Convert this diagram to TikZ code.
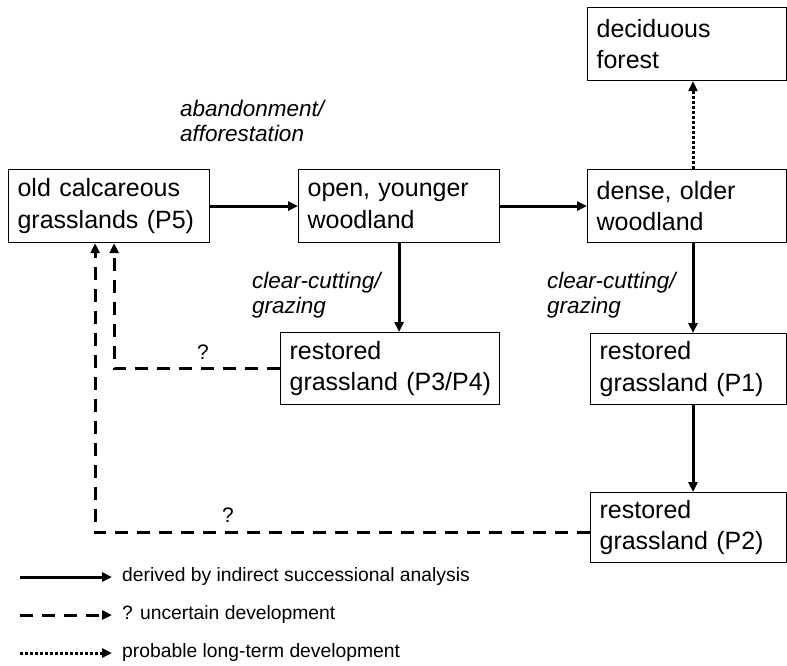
\documentclass[tikz,border=0pt]{standalone}
\usepackage{fontspec}
\setmainfont{Liberation Sans}
\usetikzlibrary{arrows.meta}
\tikzset{
  stagebox/.style={draw, line width=1.2pt, anchor=north west, align=left,
    inner xsep=9pt, inner ysep=0pt, font=\fontsize{25}{31.5}\selectfont},
  actlabel/.style={anchor=north west, inner sep=0pt, align=left,
    font=\fontsize{22.5}{24.5}\selectfont\itshape},
  legtext/.style={anchor=west, inner xsep=10pt, inner ysep=0pt,
    font=\fontsize{19.3}{22}\selectfont},
  qmark/.style={inner sep=0pt, font=\fontsize{21}{24}\selectfont},
  sure/.style={line width=3pt, ->},
  unsure/.style={line width=3pt, ->, dash pattern=on 13pt off 9pt},
  likely/.style={line width=3pt, ->, dash pattern=on 3pt off 2pt},
}

\begin{document}
\begin{tikzpicture}[x=1pt, y=-1pt, >={Triangle[length=10pt,width=9pt]}]
  \useasboundingbox (0,0) rectangle (787,666);

  \node (p5)     at (8,169)   [stagebox, text width=183pt, minimum height=73pt] {old calcareous\\grasslands (P5)};
  \node (young)  at (298,169) [stagebox, text width=183pt, minimum height=73pt] {open, younger\\woodland};
  \node (older)  at (587,169) [stagebox, text width=181pt, minimum height=73pt] {dense, older\\woodland};
  \node (forest) at (587,7)   [stagebox, text width=181pt, minimum height=73pt] {deciduous\\forest};
  \node (p34)    at (280,332) [stagebox, text width=201pt, minimum height=72pt] {restored\\grassland~(P3/P4)};
  \node (p1)     at (590,333) [stagebox, text width=178pt, minimum height=71pt] {restored\\grassland (P1)};
  \node (p2)     at (590,492) [stagebox, text width=178pt, minimum height=70pt] {restored\\grassland (P2)};

  \node (abandon) at (180,100) [actlabel] {abandonment/\\afforestation};
  \node (cut1)    at (252,272) [actlabel] {clear-cutting/\\grazing};
  \node (cut2)    at (547,272) [actlabel] {clear-cutting/\\grazing};

  \coordinate (col) at (693,0);
  \draw[sure] (p5) -- (young);
  \draw[sure] (young) -- (older);
  \draw[sure] (young.south) -- (young.south |- p34.north);
  \draw[sure] (older.south -| col) -- (p1.north -| col);
  \draw[sure] (p1.south -| col) -- (p2.north -| col);
  \draw[likely] (older.north -| col) -- (forest.south -| col);
  \draw[unsure] (p34.west) -| ([xshift=5pt]p5.south);
  \draw[unsure] ([yshift=-5pt]p2.west) -| ([xshift=-14pt]p5.south);

  \node (q1) at (203,352) [qmark] {?};
  \node (q2) at (228,515) [qmark] {?};

  \coordinate (s1) at (20,577);
  \coordinate (s2) at (20,615);
  \coordinate (s3) at (20,653);
  \node (leg1) at (112,577) [legtext] {derived by indirect successional analysis};
  \node (leg2) at (112,615) [legtext] {? uncertain development};
  \node (leg3) at (112,653) [legtext] {probable long-term development};
  \draw[sure] (s1) -- (leg1.west);
  \draw[unsure] (s2) -- (leg2.west);
  \draw[likely] (s3) -- (leg3.west);
\end{tikzpicture}
\end{document}
